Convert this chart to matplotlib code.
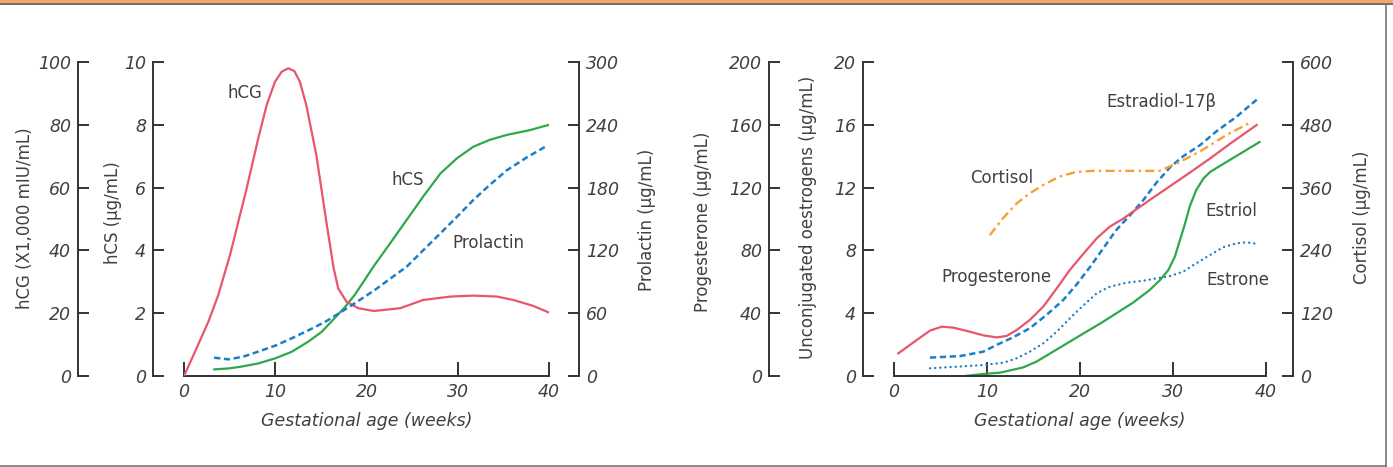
import matplotlib
matplotlib.use("Agg")
import matplotlib.pyplot as plt
from matplotlib.lines import Line2D
from matplotlib.patches import Rectangle

plt.rcParams['font.family'] = ['DejaVu Sans']
plt.rcParams['lines.scale_dashes'] = False
plt.rcParams['lines.solid_joinstyle'] = 'round'
plt.rcParams['lines.dash_joinstyle'] = 'round'

# ---------------- data: left panel ----------------
hcg_weeks = [0, 1.2, 2.67, 3.76, 5.04, 5.95, 6.87, 8.14, 9.06, 9.97, 10.7, 11.43, 12.1, 12.7,
             13.4, 14.5, 15.6, 16.4, 16.9, 17.8, 19.1, 20.8, 23.7, 26.2, 29.2, 31.7, 34.3,
             36.1, 38.3, 40]
hcg_vals = [0, 7.7, 17.3, 25.8, 38.5, 49.1, 59.8, 75.7, 86.3, 93.7, 96.9, 98.0, 97.1, 93.7,
            86.3, 70.4, 49.1, 34.3, 27.9, 23.7, 21.6, 20.7, 21.6, 24.2, 25.3, 25.6, 25.3,
            24.2, 22.3, 20.2]

hcs_weeks = [3.32, 4.86, 6.32, 8.14, 9.97, 11.8, 13.6, 15.1, 16.5, 17.6, 18.7, 19.8, 20.8,
             22.6, 24.4, 26.2, 28.1, 29.9, 31.7, 33.5, 35.4, 37.9, 40]
hcs_vals = [0.21, 0.24, 0.30, 0.40, 0.56, 0.77, 1.09, 1.41, 1.84, 2.18, 2.58, 3.06, 3.50,
            4.23, 4.97, 5.71, 6.45, 6.93, 7.30, 7.52, 7.68, 7.83, 8.0]

prl_weeks = [3.3, 4.9, 6.5, 8.1, 10.0, 11.8, 13.6, 15.5, 17.1, 18.7, 20.9, 22.6, 24.4, 26.2,
             28.1, 29.9, 31.7, 33.5, 35.4, 37.5, 39.7]
prl_vals = [17.5, 15.9, 18.5, 23.2, 29.0, 36.0, 43.5, 51.9, 60.5, 69.4, 82.1, 93.0, 104.4,
            120.0, 136.3, 152.0, 168.1, 182.5, 196.7, 208.5, 219.6]

# ---------------- data: right panel ----------------
prog_weeks = [0.46, 2.44, 3.87, 5.13, 6.38, 8.17, 9.6, 11.04, 12.1, 13.2, 14.6, 16.05, 17.5,
              18.9, 20.4, 21.8, 23.2, 24.7, 25.7, 27.5, 29.7, 31.8, 34.0, 36.1, 39.0]
prog_vals = [14.4, 22.9, 28.9, 31.4, 30.8, 28.2, 25.9, 24.6, 25.5, 29.3, 35.7, 44.2, 55.8,
             67.5, 78.1, 87.7, 95.1, 100.4, 104.7, 112.1, 121.0, 129.5, 138.6, 147.8, 159.9]

e2_weeks = [3.87, 7.1, 9.6, 11.0, 12.8, 14.6, 16.4, 18.2, 19.6, 21.1, 22.5, 23.9, 25.4, 26.8,
            28.2, 29.7, 31.1, 32.9, 34.7, 36.8, 39.0]
e2_vals = [1.17, 1.27, 1.55, 1.97, 2.46, 3.04, 3.89, 4.84, 5.80, 6.96, 8.13, 9.30, 10.25,
           11.2, 12.3, 13.3, 14.0, 14.7, 15.6, 16.5, 17.6]

e1_weeks = [3.87, 6.7, 9.6, 11.8, 13.2, 14.6, 16.05, 17.5, 18.9, 20.4, 21.8, 23.2, 25.0, 26.8,
            29.7, 31.1, 32.5, 34.0, 35.4, 36.8, 37.9, 39.1]
e1_vals = [0.49, 0.59, 0.70, 0.85, 1.13, 1.55, 2.08, 2.82, 3.67, 4.52, 5.27, 5.69, 5.94, 6.07,
           6.37, 6.65, 7.18, 7.71, 8.20, 8.45, 8.52, 8.41]

e3_weeks = [7.63, 9.6, 11.4, 13.9, 15.3, 16.8, 18.6, 20.4, 22.2, 23.9, 25.7, 27.5, 28.6, 29.5,
            30.2, 30.75, 31.3, 31.8, 32.5, 33.3, 34.0, 35.1, 36.5, 37.9, 39.3]
e3_vals = [0, 0.13, 0.21, 0.55, 0.91, 1.44, 2.08, 2.72, 3.35, 3.99, 4.67, 5.48, 6.11, 6.75,
           7.60, 8.66, 9.72, 10.8, 11.85, 12.6, 13.0, 13.4, 13.9, 14.4, 14.9]

cort_weeks = [10.3, 11.7, 13.2, 14.6, 16.05, 17.8, 19.6, 21.4, 23.2, 28.6, 29.7, 30.4, 32.9,
              35.8, 38.5]
cort_vals = [269, 301, 330, 349, 365, 381, 390, 392, 392, 392, 401, 406, 429, 461, 486]

x_ticks = [0, 10, 20, 30, 40]
hcg_ticks = [0, 20, 40, 60, 80, 100]
hcs_ticks = [0, 2, 4, 6, 8, 10]
prl_ticks = [0, 60, 120, 180, 240, 300]
prog_ticks = [0, 40, 80, 120, 160, 200]
oes_ticks = [0, 4, 8, 12, 16, 20]
cort_ticks = [0, 120, 240, 360, 480, 600]

RED = '#E8566B'
GREEN = '#2EA84B'
BLUE = '#1B7EC8'
ORANGE = '#F5A033'
INK = '#404040'
SPINE = '#333333'

W, H = 1393, 467
fig = plt.figure(figsize=(W / 100, H / 100), dpi=100)


def px_axes(x0, x1, ytop, ybot):
    return fig.add_axes([x0 / W, 1 - ybot / H, (x1 - x0) / W, (ybot - ytop) / H])


def style_axis(a, side, pos, ticks, lim):
    for s in a.spines.values():
        s.set_visible(False)
    sp = a.spines[side]
    sp.set_visible(True)
    sp.set_position(('axes', pos))
    sp.set_color(SPINE)
    sp.set_linewidth(1.4)
    if side == 'left':
        a.yaxis.set_ticks_position('left')
    else:
        a.yaxis.set_ticks_position('right')
    a.set_ylim(*lim)
    a.set_yticks(ticks)
    a.tick_params(axis='y', direction='in', length=8, width=1.4, color=SPINE,
                  labelsize=12.5, labelcolor=INK, pad=5)
    for lab in a.get_yticklabels():
        lab.set_fontstyle('italic')
    a.patch.set_visible(False)


def style_x(a):
    a.set_xlim(0, 40)
    a.set_xticks(x_ticks)
    a.spines['bottom'].set_color(SPINE)
    a.spines['bottom'].set_linewidth(1.4)
    a.tick_params(axis='x', direction='in', length=10, width=1.4, color=SPINE,
                  labelsize=12.5, labelcolor=INK, pad=5)
    for lab in a.get_xticklabels():
        lab.set_fontstyle('italic')
    a.set_xlabel('Gestational age (weeks)', fontsize=12.5, color=INK,
                 fontstyle='italic', labelpad=8)


# ---------------- left panel ----------------
axL = px_axes(184, 549, 62, 376)
axL_hcg = axL.twinx()
axL_prl = axL.twinx()
style_axis(axL, 'left', (153 - 184) / 365, hcs_ticks, (0, 10))
axL.spines['bottom'].set_visible(True)
style_x(axL)
style_axis(axL_hcg, 'left', (78 - 184) / 365, hcg_ticks, (0, 100))
style_axis(axL_prl, 'right', (579 - 184) / 365, prl_ticks, (0, 300))

axL_hcg.plot(hcg_weeks, hcg_vals, color=RED, lw=1.6)
axL.plot(hcs_weeks, hcs_vals, color=GREEN, lw=1.6)
axL_prl.plot(prl_weeks, prl_vals, color=BLUE, lw=1.8, dashes=(4.5, 2.6))

axL.text(6.7, 9.0, 'hCG', fontsize=12, color=INK, ha='center', va='center')
axL.text(24.5, 6.25, 'hCS', fontsize=12, color=INK, ha='center', va='center')
axL.text(33.4, 4.24, 'Prolactin', fontsize=12, color=INK, ha='center', va='center')

# ---------------- right panel ----------------
axR = px_axes(894, 1266, 62, 376)
axR_prog = axR.twinx()
axR_cort = axR.twinx()
style_axis(axR, 'left', (863 - 894) / 372, oes_ticks, (0, 20))
axR.spines['bottom'].set_visible(True)
style_x(axR)
style_axis(axR_prog, 'left', (769 - 894) / 372, prog_ticks, (0, 200))
style_axis(axR_cort, 'right', (1293 - 894) / 372, cort_ticks, (0, 600))

axR_prog.plot(prog_weeks, prog_vals, color=RED, lw=1.6)
axR.plot(e2_weeks, e2_vals, color=BLUE, lw=1.8, dashes=(4.5, 2.6))
axR.plot(e1_weeks, e1_vals, color=BLUE, lw=1.7, dashes=(0.1, 3.6), dash_capstyle='round')
axR.plot(e3_weeks, e3_vals, color=GREEN, lw=1.6)
axR_cort.plot(cort_weeks, cort_vals, color=ORANGE, lw=1.7, dashes=(6.5, 3, 1.8, 3))

axR.text(28.8, 17.45, 'Estradiol-17β', fontsize=12, color=INK, ha='center', va='center')
axR.text(11.6, 12.6, 'Cortisol', fontsize=12, color=INK, ha='center', va='center')
axR.text(36.3, 10.5, 'Estriol', fontsize=12, color=INK, ha='center', va='center')
axR.text(11.0, 6.3, 'Progesterone', fontsize=12, color=INK, ha='center', va='center')
axR.text(37.0, 6.1, 'Estrone', fontsize=12, color=INK, ha='center', va='center')

# ---------------- y-axis titles ----------------
def ytitle(x, y, s):
    fig.text(x / W, 1 - y / H, s, rotation=90, ha='center', va='center',
             fontsize=12, color=INK)

ytitle(25, 218, 'hCG (X1,000 mIU/mL)')
ytitle(113, 213, 'hCS (µg/mL)')
ytitle(647, 220, 'Prolactin (µg/mL)')
ytitle(703, 222, 'Progesterone (µg/mL)')
ytitle(808, 217, 'Unconjugated oestrogens (µg/mL)')
ytitle(1362, 217, 'Cortisol (µg/mL)')

# ---------------- frame ----------------
fig.add_artist(Rectangle((0, 1 - 3 / H), 1, 3 / H, transform=fig.transFigure,
                         color='#F2AA6B', lw=0))
fig.add_artist(Line2D([0, 1], [1 - 3.5 / H, 1 - 3.5 / H], transform=fig.transFigure,
                      color='#555555', lw=1.2))
fig.add_artist(Line2D([1385.5 / W, 1385.5 / W], [1 - 3.5 / H, 1 - 465.5 / H],
                      transform=fig.transFigure, color='#777777', lw=1.2))
fig.add_artist(Line2D([0, 1385.5 / W], [1 - 465.5 / H, 1 - 465.5 / H],
                      transform=fig.transFigure, color='#777777', lw=1.2))

fig.savefig('out.png', dpi=100)
